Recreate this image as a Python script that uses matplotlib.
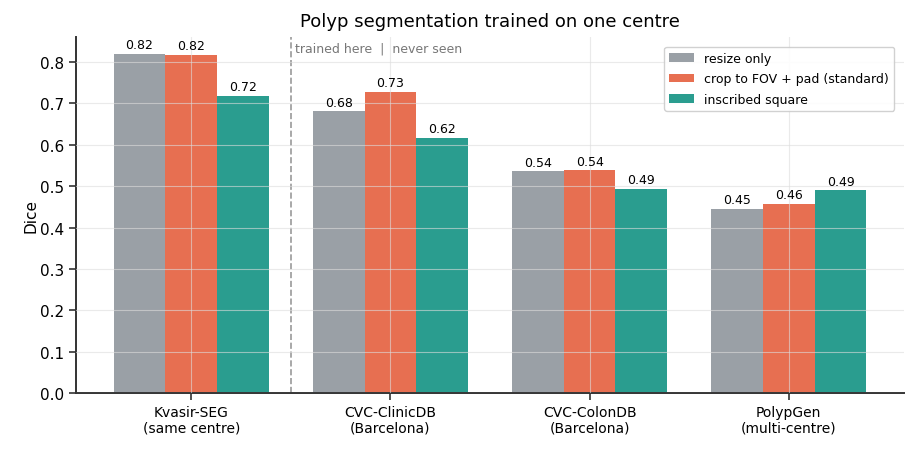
import numpy as np
import matplotlib.pyplot as plt

datasets = ['Kvasir-SEG\n(same centre)', 'CVC-ClinicDB\n(Barcelona)',
            'CVC-ColonDB\n(Barcelona)', 'PolypGen\n(multi-centre)']
resize_only = [0.820, 0.681, 0.536, 0.446]
crop_pad = [0.817, 0.728, 0.538, 0.457]
inscribed = [0.718, 0.616, 0.494, 0.490]

series = [('resize only', resize_only, '#9aa0a6'),
          ('crop to FOV + pad (standard)', crop_pad, '#e76f51'),
          ('inscribed square', inscribed, '#2a9d8f')]

fig = plt.figure(figsize=(9.18, 4.56), dpi=100)
ax = fig.add_axes([0.0828, 0.136, 0.902, 0.781])

x = np.arange(len(datasets))
w = 0.26
for i, (name, vals, col) in enumerate(series):
    bars = ax.bar(x + (i - 1) * w, vals, w, label=name, color=col)
    ax.bar_label(bars, fmt='%.2f', padding=2, fontsize=9)

# split between the training centre and unseen centres
ax.axvline(0.5, color='#999999', ls='--', lw=1.2)
ax.text(0.52, 0.97, 'trained here  |  never seen', transform=ax.get_xaxis_transform(),
        fontsize=9, color='#777777', va='center', ha='left')

ax.set_xticks(x)
ax.set_xticklabels(datasets, fontsize=10)
ax.tick_params(axis='y', labelsize=11)
ax.set_ylabel('Dice', fontsize=11, labelpad=1)
ax.set_title('Polyp segmentation trained on one centre', fontsize=13, pad=8)
ax.grid(True, color='#dddddd', alpha=0.6, lw=0.8)
ax.set_axisbelow(False)
ax.spines[['top', 'right']].set_visible(False)
for s in ['left', 'bottom']:
    ax.spines[s].set_color('#333333')
    ax.spines[s].set_linewidth(1.4)
ax.tick_params(length=5, width=1.2, color='#333333')
ax.legend(loc='upper right', fontsize=9, framealpha=0.9, edgecolor='#cccccc',
          labelspacing=0.6, borderaxespad=0.8)

fig.savefig('out.png', dpi=100)
